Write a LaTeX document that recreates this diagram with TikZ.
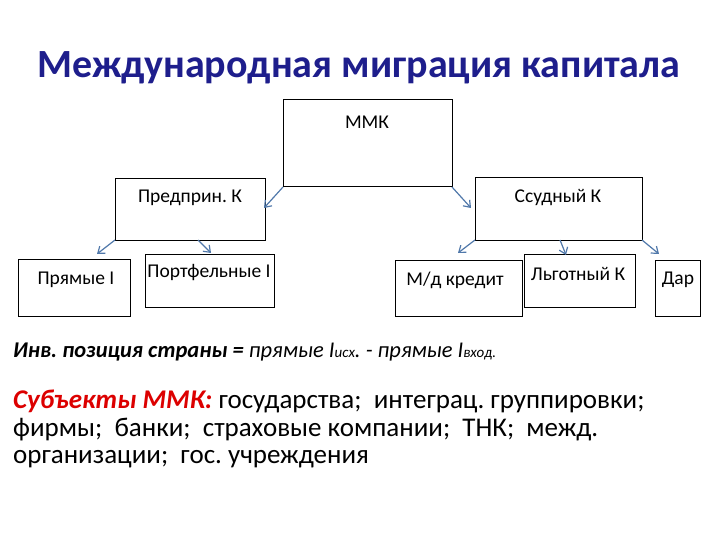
\documentclass[tikz,border=0pt]{standalone}
\usepackage{fontspec}
\setmainfont{Carlito}
\usetikzlibrary{arrows.meta}
\definecolor{ttl}{RGB}{30,30,140}
\definecolor{arr}{RGB}{80,120,170}
\definecolor{redt}{RGB}{220,0,0}
\frenchspacing
\begin{document}
\begin{tikzpicture}[x=1pt,y=-1pt,
 lbl/.style={font=\fontsize{19.5}{22}\selectfont},
 ar/.style={draw=arr,line width=1.2pt,-{Straight Barb[length=6pt,width=9pt]}}]
\useasboundingbox (0,0) rectangle (720,540);
\node[font=\fontsize{40}{46}\selectfont\bfseries,text=ttl] (title) at (359,68) {Международная миграция капитала};
\draw[line width=1pt] (283,100) rectangle (452,187);
\node[lbl] (mmk) at (367,122) {ММК};
\coordinate (mmkL) at (283,187); \coordinate (mmkR) at (452,187);
\draw[line width=1pt] (115,179) rectangle (265,240);
\node[lbl] (pr) at (190,198) {Предприн. К};
\coordinate (prL) at (115,240); \coordinate (prM) at (198,240);
\draw[line width=1pt] (475,178) rectangle (642,240);
\node[lbl] (ss) at (558,198) {Ссудный К};
\coordinate (ssL) at (475,240); \coordinate (ssM) at (560,240); \coordinate (ssR) at (642,240);
\draw[line width=1pt] (18,259) rectangle (130,316);
\node[lbl] (pi) at (76,280) {Прямые I};
\draw[line width=1pt] (145,254) rectangle (274,307);
\node[lbl] (pf) at (209,273) {Портфельные I};
\draw[line width=1pt] (395,260) rectangle (522,316);
\node[lbl] (md) at (455,280) {М/д кредит};
\draw[line width=1pt] (524,254) rectangle (635,307);
\node[lbl] (lg) at (578,274) {Льготный К};
\draw[line width=1pt] (655,260) rectangle (700,316);
\node[lbl] (dar) at (678,280) {Дар};
\coordinate (t1) at (264,208); \coordinate (t2) at (471,208);
\coordinate (t3) at (97,254); \coordinate (t4) at (211,253);
\coordinate (t5) at (458,253); \coordinate (t6) at (566,255); \coordinate (t7) at (659,254);
\draw[ar] (mmkL) -- (t1); \draw[ar] (mmkR) -- (t2);
\draw[ar] (prL) -- (t3); \draw[ar] (prM) -- (t4);
\draw[ar] (ssL) -- (t5); \draw[ar] (ssM) -- (t6); \draw[ar] (ssR) -- (t7);
\node[anchor=west,font=\fontsize{22.5}{26}\selectfont,inner sep=0pt] (inv) at (13,352)
 {\textbf{\itshape Инв. позиция страны =} \itshape прямые I{\fontsize{15}{18}\selectfont исх}. - прямые I{\fontsize{15}{18}\selectfont вход.}};
\node[anchor=north west,align=left,inner sep=0pt,font=\fontsize{27}{27.5}\selectfont] (subj) at (13,390)
 {{\color{redt}\bfseries\itshape Субъекты ММК:} государства;\ \ интеграц. группировки;\\ фирмы;\ \ банки;\ \ страховые компании;\ \ ТНК;\ \ межд.\\ организации;\ \ гос. учреждения};
\end{tikzpicture}
\end{document}
